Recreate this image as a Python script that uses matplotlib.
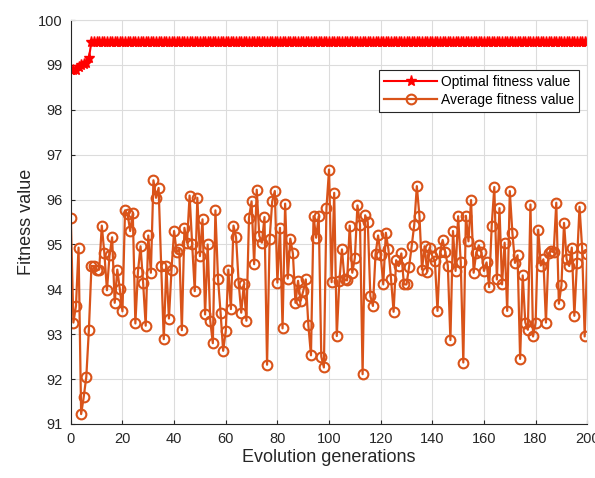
import numpy as np
import matplotlib
matplotlib.use("Agg")
import matplotlib.pyplot as plt

plt.rcParams['font.family'] = ['Liberation Sans', 'DejaVu Sans']

# optimal fitness value per generation
optimal = [98.88, 98.88, 98.88, 98.95, 99.0, 99.02, 99.05, 99.15] + [99.52] * 193

# average fitness value per generation
average = [
    95.6, 93.26, 93.63, 94.93, 91.22, 91.6, 92.05, 93.1, 94.52, 94.52,
    94.44, 94.44, 95.42, 94.8, 93.98, 94.76, 95.16, 93.7, 94.44, 94.0,
    93.51, 95.76, 95.67, 95.3, 95.7, 93.24, 94.39, 94.96, 94.15, 93.19,
    95.2, 94.37, 96.43, 96.04,
    96.26, 94.52, 92.89, 94.52, 93.35, 94.44, 95.3, 94.83, 94.89, 93.09,
    95.37, 95.04, 96.09, 95.0, 93.96, 96.04, 94.74, 95.56, 93.44, 95.0,
    93.3, 92.8, 95.76, 94.24, 93.48, 92.63, 93.07, 94.44, 93.56, 95.42,
    95.16, 94.15,
    93.48, 94.11, 93.3, 95.59, 95.96, 94.56, 96.22, 95.19, 95.04, 95.61,
    92.32, 95.13, 95.96, 96.19, 94.15, 95.37, 93.13, 95.91, 94.24, 95.13,
    94.8, 93.7, 94.19, 93.74, 93.96, 94.22, 93.2, 92.53, 95.63, 95.15,
    95.63, 92.5, 92.26, 95.81, 96.67,
    94.16, 96.15, 92.96, 94.19, 94.89, 94.22, 94.2, 95.42, 94.37, 94.7,
    95.87, 95.44, 92.11, 95.65, 95.5, 93.85, 93.63, 94.78, 95.2, 94.76,
    94.11, 95.26, 94.89, 94.24, 93.5, 94.65, 94.52, 94.8, 94.11, 94.11,
    94.5, 94.96, 95.44, 96.3,
    95.64, 94.44, 94.96, 94.39, 94.93, 94.74, 94.63, 93.52, 94.83, 95.1,
    94.83, 94.53, 92.87, 95.3, 94.41, 95.63, 94.6, 92.37, 95.64, 95.07,
    95.99, 94.37, 94.81, 94.98, 94.83, 94.41, 94.6, 94.05, 95.42, 96.28,
    94.22, 95.81,
    94.11, 95.04, 93.52, 96.19, 95.26, 94.59, 94.76, 92.45, 94.31, 93.26,
    93.1, 95.89, 92.95, 93.26, 95.33, 94.53, 94.67, 93.26, 94.8, 94.85,
    94.83, 95.93, 93.68, 94.09, 95.48, 94.67, 94.52, 94.93, 93.41, 94.59,
    95.84, 94.93, 92.95, 94.78,
]

gens = np.arange(len(average))
gens_opt = np.arange(len(optimal))

fig = plt.figure(figsize=(5.95, 4.78), dpi=100)
ax = fig.add_axes([0.119, 0.113, 0.868, 0.845])

ax.plot(gens_opt, optimal, '-*', color='#ff0000', lw=1.5, ms=8,
        label='Optimal fitness value')
ax.plot(gens, average, '-o', color='#d95319', lw=1.6, ms=7, mfc='none', mew=1.5,
        label='Average fitness value')

ax.set_xlim(0, 200)
ax.set_ylim(91, 100)
ax.set_xticks(np.arange(0, 201, 20))
ax.set_yticks(np.arange(91, 101, 1))
ax.grid(True, color='#dcdcdc', lw=0.8)
ax.set_axisbelow(True)
ax.tick_params(labelsize=10.5, direction='in', length=3, colors='#262626', pad=6)
for s in ['top', 'right']:
    ax.spines[s].set_color('#dcdcdc')
for s in ['left', 'bottom']:
    ax.spines[s].set_color('#262626')

ax.set_xlabel('Evolution generations', fontsize=13, color='#262626', labelpad=2)
ax.set_ylabel('Fitness value', fontsize=13, color='#262626', labelpad=2)

leg = ax.legend(loc='upper right', bbox_to_anchor=(0.998, 0.893), fontsize=10,
                fancybox=False, framealpha=1, edgecolor='#262626',
                borderpad=0.35, labelspacing=0.3, handlelength=3.8,
                handletextpad=0.3)
leg.get_frame().set_linewidth(0.8)

fig.savefig('out.png', dpi=100)
